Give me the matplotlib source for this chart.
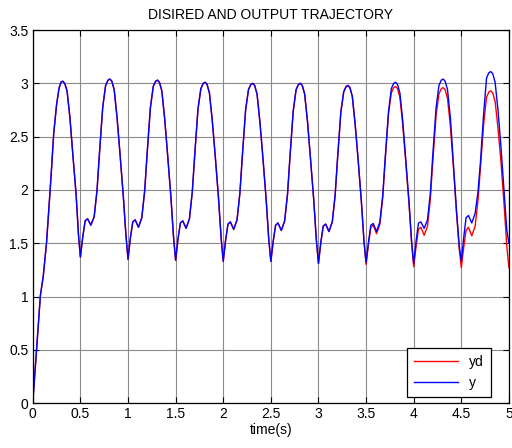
import matplotlib
matplotlib.use("Agg")
import matplotlib.pyplot as plt
from matplotlib.ticker import MultipleLocator

plt.rcParams['font.family'] = ['Liberation Sans', 'DejaVu Sans']

# time (s), one row per half-second cycle
t = [0.00, 0.04, 0.08, 0.11, 0.145, 0.17, 0.19, 0.22, 0.25, 0.275, 0.295, 0.315, 0.335, 0.36, 0.39, 0.42, 0.455, 0.48,
     0.50, 0.525, 0.55, 0.575, 0.61, 0.645, 0.675, 0.70, 0.735, 0.765, 0.79, 0.81, 0.83, 0.855, 0.885, 0.915, 0.95, 0.978,
     1.00, 1.025, 1.05, 1.075, 1.11, 1.145, 1.175, 1.20, 1.235, 1.265, 1.29, 1.31, 1.33, 1.355, 1.385, 1.415, 1.45, 1.478,
     1.50, 1.525, 1.55, 1.575, 1.61, 1.645, 1.675, 1.70, 1.735, 1.765, 1.79, 1.81, 1.83, 1.855, 1.885, 1.915, 1.95, 1.978,
     2.00, 2.025, 2.05, 2.075, 2.11, 2.145, 2.175, 2.20, 2.235, 2.265, 2.29, 2.31, 2.33, 2.355, 2.385, 2.415, 2.45, 2.478,
     2.50, 2.525, 2.55, 2.575, 2.61, 2.645, 2.675, 2.70, 2.735, 2.765, 2.79, 2.81, 2.83, 2.855, 2.885, 2.915, 2.95, 2.978,
     3.00, 3.025, 3.05, 3.075, 3.11, 3.145, 3.175, 3.20, 3.235, 3.265, 3.29, 3.31, 3.33, 3.355, 3.385, 3.415, 3.45, 3.478,
     3.50, 3.525, 3.55, 3.575, 3.61, 3.645, 3.675, 3.70, 3.735, 3.765, 3.79, 3.81, 3.83, 3.855, 3.885, 3.915, 3.95, 3.978,
     4.00, 4.025, 4.05, 4.075, 4.11, 4.145, 4.175, 4.20, 4.235, 4.265, 4.29, 4.31, 4.33, 4.355, 4.385, 4.415, 4.45, 4.478,
     4.50, 4.525, 4.55, 4.575, 4.61, 4.645, 4.675, 4.70, 4.735, 4.765, 4.79, 4.81, 4.83, 4.855, 4.885, 4.915, 4.95, 4.978,
     5.00]

# desired trajectory
yd = [0.00, 0.50, 1.01, 1.19, 1.51, 1.84, 2.10, 2.53, 2.80, 2.95, 3.01, 3.02, 3.00, 2.93, 2.68, 2.34, 1.96, 1.58,
      1.37, 1.56, 1.71, 1.73, 1.67, 1.75, 2.00, 2.34, 2.78, 2.98, 3.03, 3.04, 3.02, 2.94, 2.68, 2.35, 1.95, 1.58,
      1.35, 1.55, 1.70, 1.72, 1.65, 1.74, 1.99, 2.33, 2.77, 2.97, 3.02, 3.03, 3.01, 2.93, 2.67, 2.34, 1.94, 1.56,
      1.34, 1.54, 1.69, 1.71, 1.64, 1.73, 1.98, 2.32, 2.76, 2.95, 3.00, 3.01, 2.99, 2.91, 2.65, 2.33, 1.93, 1.55,
      1.33, 1.53, 1.68, 1.70, 1.63, 1.72, 1.97, 2.31, 2.75, 2.94, 2.99, 3.00, 2.98, 2.90, 2.64, 2.32, 1.92, 1.54,
      1.33, 1.52, 1.67, 1.69, 1.62, 1.71, 1.96, 2.30, 2.74, 2.94, 2.99, 3.00, 2.98, 2.90, 2.64, 2.31, 1.91, 1.53,
      1.31, 1.51, 1.66, 1.68, 1.61, 1.70, 1.95, 2.29, 2.73, 2.92, 2.97, 2.98, 2.96, 2.88, 2.62, 2.30, 1.90, 1.52,
      1.30, 1.49, 1.65, 1.67, 1.59, 1.68, 1.93, 2.27, 2.71, 2.91, 2.96, 2.97, 2.95, 2.87, 2.61, 2.28, 1.88, 1.50,
      1.28, 1.47, 1.63, 1.65, 1.575, 1.66, 1.92, 2.26, 2.70, 2.90, 2.95, 2.96, 2.94, 2.86, 2.60, 2.24, 1.78, 1.45,
      1.27, 1.46, 1.62, 1.65, 1.57, 1.66, 1.90, 2.20, 2.62, 2.87, 2.92, 2.93, 2.91, 2.83, 2.58, 2.28, 1.85, 1.47,
      1.27]

# output trajectory
y = [0.00, 0.50, 1.01, 1.19, 1.51, 1.84, 2.10, 2.53, 2.80, 2.95, 3.01, 3.02, 3.00, 2.93, 2.68, 2.34, 1.96, 1.58,
     1.37, 1.56, 1.71, 1.73, 1.67, 1.75, 2.00, 2.34, 2.78, 2.98, 3.03, 3.04, 3.02, 2.94, 2.68, 2.35, 1.95, 1.58,
     1.35, 1.55, 1.70, 1.72, 1.65, 1.74, 1.99, 2.33, 2.77, 2.97, 3.02, 3.03, 3.01, 2.93, 2.67, 2.34, 1.94, 1.56,
     1.34, 1.54, 1.69, 1.71, 1.64, 1.73, 1.98, 2.32, 2.76, 2.95, 3.00, 3.01, 2.99, 2.91, 2.65, 2.33, 1.93, 1.55,
     1.33, 1.53, 1.68, 1.70, 1.63, 1.72, 1.97, 2.31, 2.75, 2.94, 2.99, 3.00, 2.98, 2.90, 2.64, 2.32, 1.92, 1.54,
     1.33, 1.52, 1.67, 1.69, 1.62, 1.71, 1.96, 2.30, 2.74, 2.94, 2.99, 3.00, 2.98, 2.90, 2.64, 2.31, 1.91, 1.53,
     1.31, 1.51, 1.66, 1.68, 1.61, 1.70, 1.95, 2.29, 2.73, 2.92, 2.97, 2.98, 2.96, 2.88, 2.62, 2.30, 1.90, 1.52,
     1.32, 1.51, 1.67, 1.685, 1.61, 1.70, 1.95, 2.29, 2.73, 2.95, 3.00, 3.01, 2.99, 2.91, 2.65, 2.30, 1.90, 1.52,
     1.31, 1.52, 1.69, 1.70, 1.64, 1.72, 1.97, 2.32, 2.77, 2.98, 3.03, 3.04, 3.02, 2.94, 2.68, 2.27, 1.80, 1.48,
     1.33, 1.55, 1.74, 1.76, 1.69, 1.78, 1.98, 2.25, 2.72, 3.05, 3.10, 3.11, 3.09, 3.01, 2.75, 2.42, 1.98, 1.62,
     1.50]

fig, ax = plt.subplots(figsize=(5.12, 4.48), dpi=100)
plt.subplots_adjust(left=0.064, right=0.994, bottom=0.100, top=0.933)

ax.plot(t, yd, color='red', linewidth=1.0, label='yd')
ax.plot(t, y, color='blue', linewidth=1.0, label='y')

ax.set_xlim(0, 5)
ax.set_ylim(0, 3.5)
ax.xaxis.set_major_locator(MultipleLocator(0.5))
ax.yaxis.set_major_locator(MultipleLocator(0.5))
ax.xaxis.set_major_formatter(lambda v, p: '%g' % v)
ax.yaxis.set_major_formatter(lambda v, p: '%g' % v)
ax.grid(True, color='0.55', linestyle='-', linewidth=0.8)
ax.tick_params(direction='in', top=True, right=True, labelsize=10, length=4, pad=3)
for s in ax.spines.values():
    s.set_linewidth(0.9)

ax.set_title('DISIRED AND OUTPUT TRAJECTORY', fontsize=10, pad=8)
ax.set_xlabel('time(s)', fontsize=10, labelpad=1)

leg = ax.legend(loc='upper right', bbox_to_anchor=(0.962, 0.147), borderaxespad=0,
                fontsize=10, fancybox=False, framealpha=1, edgecolor='black',
                handlelength=3.2, handletextpad=0.8, borderpad=0.5)
leg.get_frame().set_linewidth(0.9)

fig.savefig('out.png', dpi=100)
